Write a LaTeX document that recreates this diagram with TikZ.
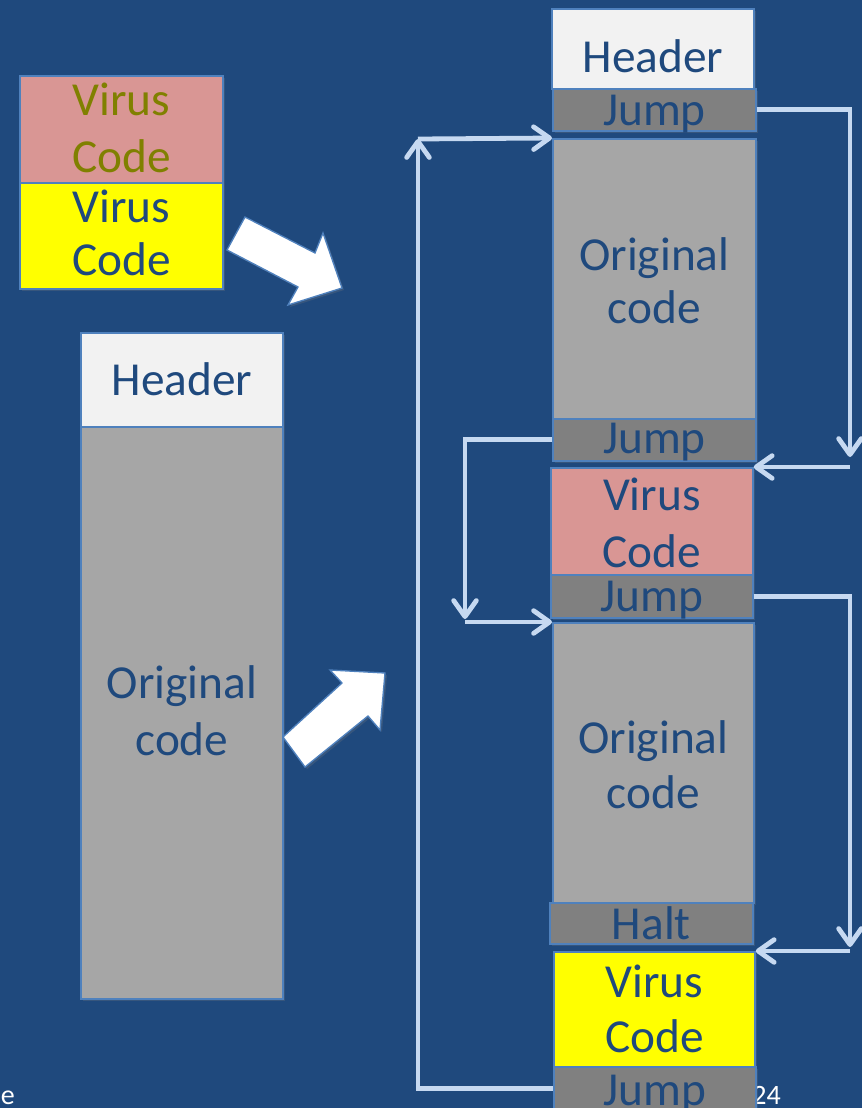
\documentclass[tikz,border=0pt]{standalone}
\usepackage{fontspec}
\setmainfont{Carlito}
\usetikzlibrary{arrows.meta,shadows}
\definecolor{bg}{HTML}{1F497D}
\definecolor{txtblue}{HTML}{1F497D}
\definecolor{olive}{HTML}{808000}
\definecolor{pinkfill}{HTML}{D99694}
\definecolor{yel}{HTML}{FFFF00}
\definecolor{hdrfill}{HTML}{F2F2F2}
\definecolor{origfill}{HTML}{A6A6A6}
\definecolor{jumpfill}{HTML}{808080}
\definecolor{bordercol}{HTML}{4F81BD}
\definecolor{connc}{HTML}{C6D9F1}
\tikzset{
  box/.style={draw=bordercol, line width=1.3pt, anchor=north west, inner sep=0pt,
    drop shadow={opacity=0.25, shadow xshift=1.5pt, shadow yshift=-1.5pt}},
  lbl/.style={anchor=base, text=txtblue, inner sep=0pt, font=\fontsize{35.5}{40}\selectfont},
  conn/.style={draw=connc, line width=3.6pt, -{Straight Barb[length=12pt,width=17pt,round]}},
  blockarrow/.style={fill=white, draw=bordercol, line width=1pt,
    drop shadow={opacity=0.25, shadow xshift=1.5pt, shadow yshift=-1.5pt}},
  foot/.style={text=white, inner sep=0pt, font=\fontsize{21}{24}\selectfont}
}
\begin{document}
\begin{tikzpicture}[x=0.75pt,y=-0.75pt]
\path[use as bounding box, fill=bg] (0,0) rectangle (862,1108);

% footer texts (partly hidden, as in the reference)
\node[foot, anchor=base east] (pgnum) at (781,1104) {24};
\node[foot, anchor=base east] (ftxt) at (15,1104) {e};

% left column
\node[box, fill=pinkfill, minimum width=152.25pt, minimum height=80.25pt] (lv1) at (19,75) {};
\node[box, fill=yel, minimum width=152.25pt, minimum height=79.5pt] (lv2) at (19,182) {};
\node[box, fill=hdrfill, minimum width=151.5pt, minimum height=70.5pt] (lh) at (80,332) {};
\node[box, fill=origfill, minimum width=151.5pt, minimum height=429pt] (lo) at (80,426) {};

% right column
\node[box, fill=hdrfill, minimum width=151.5pt, minimum height=60pt] (rh) at (551,8) {};
\node[box, fill=jumpfill, minimum width=152.25pt, minimum height=31.5pt] (rj1) at (552,88) {};
\node[box, fill=origfill, minimum width=152.25pt, minimum height=210pt] (ro1) at (552,138) {};
\node[box, fill=jumpfill, minimum width=152.25pt, minimum height=31.5pt] (rj2) at (552,418) {};
\node[box, fill=pinkfill, minimum width=151.5pt, minimum height=80.25pt] (rv1) at (550,467) {};
\node[box, fill=jumpfill, minimum width=151.5pt, minimum height=32.25pt] (rj3) at (550,574) {};
\node[box, fill=origfill, minimum width=150.75pt, minimum height=210pt] (ro2) at (552,622) {};
\node[box, fill=jumpfill, minimum width=152.25pt, minimum height=30.75pt] (rhalt) at (549,902) {};
\node[box, fill=yel, minimum width=150.75pt, minimum height=86.25pt] (rv2) at (553,951) {};
\node[box, fill=jumpfill, minimum width=151.5pt, minimum height=33pt] (rj4) at (553,1066) {};

% labels
\node[lbl, text=olive] (lv1a) at (lv1.center |- 0,115) {Virus};
\node[lbl, text=olive] (lv1b) at (lv1.center |- 0,172) {Code};
\node[lbl] (lv2a) at (lv2.center |- 0,222) {Virus};
\node[lbl] (lv2b) at (lv2.center |- 0,275) {Code};
\node[lbl] (lha) at (lh.center |- 0,395) {Header};
\node[lbl] (loa) at (lo.center |- 0,698) {Original};
\node[lbl] (lob) at (lo.center |- 0,755) {code};

\node[lbl] (rha) at (rh.center |- 0,72) {Header};
\node[lbl] (rj1a) at (rj1.center |- 0,125) {Jump};
\node[lbl] (ro1a) at (ro1.center |- 0,270) {Original};
\node[lbl] (ro1b) at (ro1.center |- 0,323) {code};
\node[lbl] (rj2a) at (rj2.center |- 0,453) {Jump};
\node[lbl] (rv1a) at (rv1.center |- 0,510) {Virus};
\node[lbl] (rv1b) at (rv1.center |- 0,567) {Code};
\node[lbl] (rj3a) at (rj3.center |- 0,611) {Jump};
\node[lbl] (ro2a) at (ro2.center |- 0,753) {Original};
\node[lbl] (ro2b) at (ro2.center |- 0,808) {code};
\node[lbl] (rhalta) at (rhalt.center |- 0,939) {Halt};
\node[lbl] (rv2a) at (rv2.center |- 0,997) {Virus};
\node[lbl] (rv2b) at (rv2.center |- 0,1052) {Code};
\node[lbl] (rj4a) at (rj4.center |- 0,1105) {Jump};

% block arrows
\filldraw[blockarrow] (245,217) -- (315,253) -- (323,233) -- (342,288) -- (288,305) -- (298,287) -- (227,250) -- cycle;
\filldraw[blockarrow] (283,737) -- (342,683) -- (330,670) -- (385,673) -- (380,730) -- (368,716) -- (305,767) -- cycle;

% connectors
\coordinate (t1) at (850,457);
\coordinate (s1) at (850,467);
\draw[conn] (rj1.east) -| (t1);
\draw[conn] (s1) -- (rv1.north east);

\coordinate (t2) at (465,619);
\coordinate (s2) at (465,622);
\draw[conn] (rj2.west) -| (t2);
\draw[conn] (s2) -- (ro2.north west);

\coordinate (t3) at (850,947);
\coordinate (s3) at (850,951);
\draw[conn] (rj3.east) -| (t3);
\draw[conn] (s3) -- (rv2.north east);

\coordinate (t4) at (418,139);
\draw[conn] (rj4.west) -| (t4);
\draw[conn] (t4) -- (ro1.north west);
\end{tikzpicture}
\end{document}
